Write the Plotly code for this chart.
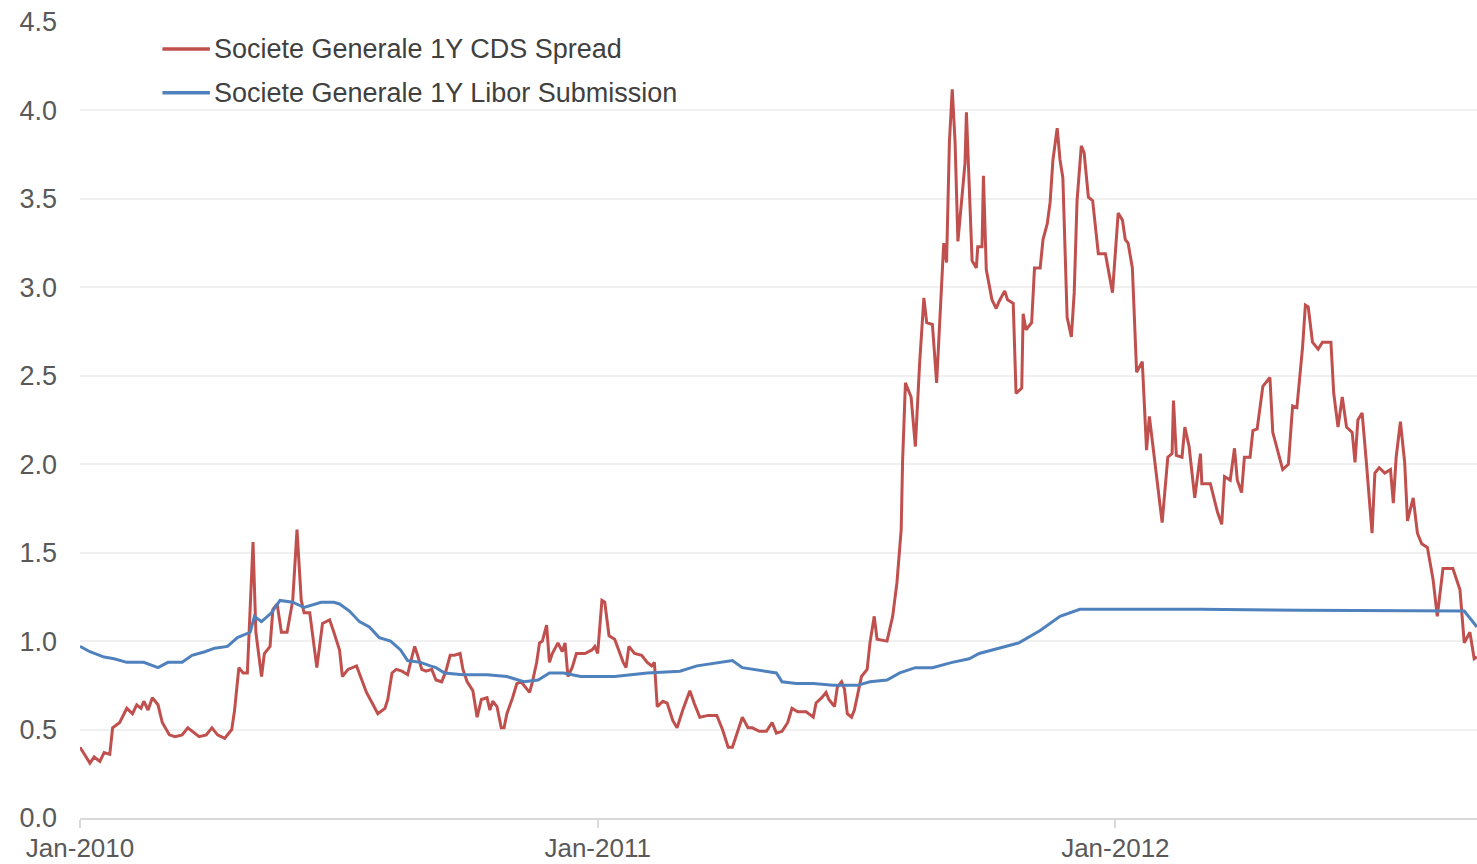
import plotly.graph_objects as go

# Societe Generale 1Y CDS spread
cds_dates = [
    "2010-01-01", "2010-01-08", "2010-01-11", "2010-01-15", "2010-01-18", "2010-01-22", "2010-01-24", "2010-01-29",
    "2010-02-03", "2010-02-07", "2010-02-10", "2010-02-13", "2010-02-15", "2010-02-18", "2010-02-21", "2010-02-25", "2010-02-28",
    "2010-03-05", "2010-03-09", "2010-03-14", "2010-03-18", "2010-03-21", "2010-03-26", "2010-03-31",
    "2010-04-04", "2010-04-08", "2010-04-13", "2010-04-18", "2010-04-20", "2010-04-23", "2010-04-26", "2010-04-29",
    "2010-05-03", "2010-05-05", "2010-05-09", "2010-05-11", "2010-05-15", "2010-05-17", "2010-05-20", "2010-05-23", "2010-05-27", "2010-05-31",
    "2010-06-03", "2010-06-06", "2010-06-08", "2010-06-12", "2010-06-17", "2010-06-21", "2010-06-26", "2010-06-29",
    "2010-07-03", "2010-07-05", "2010-07-09", "2010-07-15", "2010-07-18", "2010-07-22", "2010-07-26", "2010-07-30",
    "2010-08-04", "2010-08-06", "2010-08-09", "2010-08-12", "2010-08-16", "2010-08-20", "2010-08-23", "2010-08-25", "2010-08-27", "2010-08-30",
    "2010-09-02", "2010-09-06", "2010-09-09", "2010-09-13", "2010-09-16", "2010-09-19", "2010-09-22", "2010-09-26", "2010-09-28",
    "2010-10-01", "2010-10-05", "2010-10-08", "2010-10-11", "2010-10-15", "2010-10-17", "2010-10-19", "2010-10-22", "2010-10-25", "2010-10-27", "2010-10-29",
    "2010-11-02", "2010-11-05", "2010-11-08", "2010-11-10", "2010-11-14", "2010-11-16", "2010-11-19", "2010-11-21", "2010-11-23", "2010-11-26", "2010-11-28", "2010-11-30",
    "2010-12-04", "2010-12-07", "2010-12-09", "2010-12-11", "2010-12-14", "2010-12-17", "2010-12-23", "2010-12-28", "2010-12-30",
    "2011-01-01", "2011-01-04", "2011-01-06", "2011-01-09", "2011-01-13", "2011-01-19", "2011-01-21", "2011-01-23", "2011-01-27",
    "2011-02-01", "2011-02-05", "2011-02-08", "2011-02-10", "2011-02-12", "2011-02-16", "2011-02-19", "2011-02-23", "2011-02-26",
    "2011-03-02", "2011-03-07", "2011-03-10", "2011-03-14", "2011-03-20", "2011-03-26", "2011-03-30",
    "2011-04-03", "2011-04-06", "2011-04-10", "2011-04-13", "2011-04-17", "2011-04-20", "2011-04-25", "2011-04-30",
    "2011-05-04", "2011-05-07", "2011-05-11", "2011-05-15", "2011-05-18", "2011-05-22", "2011-05-28",
    "2011-06-02", "2011-06-04", "2011-06-08", "2011-06-11", "2011-06-13", "2011-06-17", "2011-06-19", "2011-06-22", "2011-06-24", "2011-06-26", "2011-06-29",
    "2011-07-01", "2011-07-03", "2011-07-06", "2011-07-10", "2011-07-12", "2011-07-15", "2011-07-17", "2011-07-24", "2011-07-28", "2011-07-31",
    "2011-08-03", "2011-08-04", "2011-08-05", "2011-08-06", "2011-08-10", "2011-08-13", "2011-08-16", "2011-08-19", "2011-08-21", "2011-08-25", "2011-08-28", "2011-08-30",
    "2011-09-02", "2011-09-04", "2011-09-06", "2011-09-08", "2011-09-10", "2011-09-12", "2011-09-15", "2011-09-17", "2011-09-18", "2011-09-20", "2011-09-22", "2011-09-25", "2011-09-26", "2011-09-29", "2011-09-30",
    "2011-10-02", "2011-10-06", "2011-10-09", "2011-10-11", "2011-10-15", "2011-10-17", "2011-10-21", "2011-10-23", "2011-10-27", "2011-10-28", "2011-10-30",
    "2011-11-03", "2011-11-05", "2011-11-09", "2011-11-11", "2011-11-14", "2011-11-16", "2011-11-18", "2011-11-21", "2011-11-23", "2011-11-25", "2011-11-28",
    "2011-12-01", "2011-12-03", "2011-12-05", "2011-12-08", "2011-12-10", "2011-12-13", "2011-12-16", "2011-12-20", "2011-12-25", "2011-12-30",
    "2012-01-03", "2012-01-06", "2012-01-08", "2012-01-10", "2012-01-13", "2012-01-16", "2012-01-20", "2012-01-23", "2012-01-25", "2012-01-29",
    "2012-02-01", "2012-02-03", "2012-02-07", "2012-02-10", "2012-02-11", "2012-02-13", "2012-02-17", "2012-02-19", "2012-02-22", "2012-02-26",
    "2012-03-01", "2012-03-02", "2012-03-08", "2012-03-13", "2012-03-16", "2012-03-18", "2012-03-22", "2012-03-25", "2012-03-27", "2012-03-30",
    "2012-04-01", "2012-04-05", "2012-04-07", "2012-04-10", "2012-04-14", "2012-04-19", "2012-04-21", "2012-04-25", "2012-04-28",
    "2012-05-02", "2012-05-05", "2012-05-08", "2012-05-12", "2012-05-14", "2012-05-16", "2012-05-19", "2012-05-23", "2012-05-26",
    "2012-06-01", "2012-06-03", "2012-06-06", "2012-06-09", "2012-06-12", "2012-06-16", "2012-06-18", "2012-06-20", "2012-06-23", "2012-06-26", "2012-06-30",
    "2012-07-02", "2012-07-05", "2012-07-09", "2012-07-13", "2012-07-15", "2012-07-17", "2012-07-20", "2012-07-23", "2012-07-25", "2012-07-29",
    "2012-08-01", "2012-08-04", "2012-08-08", "2012-08-12", "2012-08-15", "2012-08-19", "2012-08-26", "2012-08-31",
    "2012-09-03", "2012-09-07", "2012-09-10", "2012-09-12",
]
cds_values = [
    0.40, 0.31, 0.345, 0.32, 0.37, 0.36, 0.51, 0.54,
    0.62, 0.59, 0.64, 0.62, 0.66, 0.61, 0.68, 0.64, 0.54,
    0.47, 0.46, 0.47, 0.51, 0.49, 0.46, 0.47,
    0.51, 0.47, 0.45, 0.50, 0.61, 0.85, 0.82, 0.82,
    1.56, 1.05, 0.80, 0.93, 0.97, 1.18, 1.21, 1.05, 1.05, 1.23,
    1.63, 1.23, 1.16, 1.16, 0.85, 1.10, 1.12, 1.05,
    0.95, 0.80, 0.84, 0.86, 0.80, 0.71, 0.65, 0.59,
    0.62, 0.67, 0.82, 0.84, 0.83, 0.81, 0.91, 0.97, 0.92, 0.84,
    0.83, 0.84, 0.78, 0.77, 0.83, 0.92, 0.92, 0.93, 0.84,
    0.77, 0.72, 0.57, 0.67, 0.68, 0.61, 0.66, 0.63, 0.51, 0.51, 0.59,
    0.68, 0.76, 0.77, 0.75, 0.71, 0.77, 0.88, 0.99, 1.00, 1.09, 0.88, 0.93,
    0.99, 0.94, 0.99, 0.80, 0.85, 0.93, 0.93, 0.95, 0.97,
    0.93, 1.23, 1.22, 1.03, 1.01, 0.88, 0.85, 0.97, 0.93,
    0.92, 0.88, 0.86, 0.88, 0.63, 0.66, 0.65, 0.55, 0.51,
    0.61, 0.72, 0.65, 0.57, 0.58, 0.58, 0.50,
    0.40, 0.40, 0.50, 0.57, 0.51, 0.51, 0.49, 0.49,
    0.54, 0.48, 0.49, 0.54, 0.62, 0.60, 0.60,
    0.57, 0.65, 0.68, 0.71, 0.67, 0.63, 0.74, 0.77, 0.73, 0.59, 0.57,
    0.61, 0.68, 0.80, 0.84, 0.99, 1.14, 1.01, 1.00, 1.14, 1.33,
    1.63, 2.02, 2.31, 2.46, 2.38, 2.10, 2.57, 2.94, 2.80, 2.79, 2.46, 2.78,
    3.25, 3.14, 3.82, 4.12, 3.82, 3.26, 3.51, 3.70, 3.99, 3.59, 3.15, 3.11, 3.23, 3.23, 3.63,
    3.10, 2.93, 2.88, 2.92, 2.98, 2.93, 2.91, 2.40, 2.43, 2.85, 2.76,
    2.80, 3.11, 3.11, 3.27, 3.36, 3.48, 3.72, 3.90, 3.72, 3.62, 2.83,
    2.72, 2.97, 3.49, 3.80, 3.76, 3.51, 3.49, 3.19, 3.19, 2.97,
    3.42, 3.38, 3.27, 3.25, 3.11, 2.52, 2.58, 2.08, 2.27, 2.01,
    1.80, 1.67, 2.04, 2.06, 2.36, 2.05, 2.04, 2.21, 2.10, 1.81,
    2.06, 1.89, 1.89, 1.73, 1.66, 1.93, 1.91, 2.09, 1.91, 1.84,
    2.04, 2.04, 2.19, 2.20, 2.44, 2.49, 2.18, 2.06, 1.97,
    2.00, 2.33, 2.32, 2.66, 2.90, 2.89, 2.69, 2.65, 2.69,
    2.69, 2.40, 2.21, 2.38, 2.21, 2.18, 2.01, 2.25, 2.29, 2.01, 1.61,
    1.95, 1.98, 1.95, 1.97, 1.78, 2.04, 2.24, 2.01, 1.68, 1.81,
    1.61, 1.55, 1.53, 1.35, 1.14, 1.41, 1.41, 1.29,
    0.99, 1.05, 0.90, 0.91,
]

# Societe Generale 1Y Libor submission
libor_dates = [
    "2010-01-01", "2010-01-08", "2010-01-18", "2010-01-25", "2010-02-03", "2010-02-15", "2010-02-25",
    "2010-03-04", "2010-03-14", "2010-03-21", "2010-03-30", "2010-04-06", "2010-04-15", "2010-04-22",
    "2010-05-01", "2010-05-04", "2010-05-09", "2010-05-16", "2010-05-22", "2010-05-31", "2010-06-08",
    "2010-06-20", "2010-06-29", "2010-07-03", "2010-07-10", "2010-07-17", "2010-07-24", "2010-07-31",
    "2010-08-08", "2010-08-15", "2010-08-20", "2010-08-29", "2010-09-05", "2010-09-09", "2010-09-15",
    "2010-09-28", "2010-10-15", "2010-10-29", "2010-11-10", "2010-11-20", "2010-11-28", "2010-12-08",
    "2010-12-20", "2011-01-01", "2011-01-13", "2011-02-05", "2011-02-28", "2011-03-12", "2011-03-28",
    "2011-04-06", "2011-04-13", "2011-04-30", "2011-05-07", "2011-05-11", "2011-05-21", "2011-06-02",
    "2011-06-16", "2011-07-03", "2011-07-12", "2011-07-24", "2011-08-02", "2011-08-13", "2011-08-25",
    "2011-09-08", "2011-09-20", "2011-09-27", "2011-10-11", "2011-10-25", "2011-11-09", "2011-11-23",
    "2011-12-07", "2011-12-21", "2012-03-01", "2012-05-11", "2012-07-20", "2012-09-03", "2012-09-12",
]
libor_values = [
    0.97, 0.94, 0.91, 0.90, 0.88, 0.88, 0.85,
    0.88, 0.88, 0.92, 0.94, 0.96, 0.97, 1.02,
    1.05, 1.14, 1.11, 1.16, 1.23, 1.22, 1.19,
    1.22, 1.22, 1.21, 1.17, 1.11, 1.08, 1.02,
    1.00, 0.95, 0.89, 0.88, 0.86, 0.85, 0.82,
    0.81, 0.81, 0.80, 0.77, 0.78, 0.82, 0.82,
    0.80, 0.80, 0.80, 0.82, 0.83, 0.86, 0.88,
    0.89, 0.85, 0.83, 0.82, 0.77, 0.76, 0.76,
    0.75, 0.75, 0.77, 0.78, 0.82, 0.85, 0.85,
    0.88, 0.90, 0.93, 0.96, 0.99, 1.06, 1.14,
    1.18, 1.18, 1.18, 1.175, 1.17, 1.17, 1.08,
]

series_names = ["Societe Generale 1Y CDS Spread", "Societe Generale 1Y Libor Submission"]
year_ticks = ["2010-01-01", "2011-01-01", "2012-01-01"]
year_labels = ["Jan-2010", "Jan-2011", "Jan-2012"]

RED = "#c0504d"
BLUE = "#4f81bd"
FONT = "Liberation Sans, Arial, sans-serif"

fig = go.Figure()
fig.add_trace(go.Scatter(x=cds_dates, y=cds_values, mode="lines",
                         name=series_names[0], line=dict(color=RED, width=3)))
fig.add_trace(go.Scatter(x=libor_dates, y=libor_values, mode="lines",
                         name=series_names[1], line=dict(color=BLUE, width=3)))

# legend drawn by hand so the sample lines can be as long as in the original
legend_y = [0.966, 0.911]
for name, color, ly in zip(series_names, [RED, BLUE], legend_y):
    fig.add_shape(type="line", xref="paper", yref="paper",
                  x0=0.059, x1=0.093, y0=ly, y1=ly,
                  line=dict(color=color, width=3.5))
    fig.add_annotation(xref="paper", yref="paper", x=0.0945, y=ly,
                       xanchor="left", yanchor="middle", showarrow=False,
                       text=name, font=dict(family=FONT, size=27, color="#404040"))

fig.update_layout(
    width=1477, height=864,
    margin=dict(l=80, r=0, t=22, b=46),
    paper_bgcolor="white", plot_bgcolor="white",
    showlegend=False,
    font=dict(family=FONT, size=27, color="#595959"),
    xaxis=dict(
        type="date", range=["2010-01-01", "2012-09-12"],
        tickvals=year_ticks, ticktext=year_labels,
        showgrid=False, zeroline=False,
        showline=True, linecolor="#d9d9d9", linewidth=2,
        ticks="outside", ticklen=8, tickcolor="#d9d9d9", tickwidth=2,
        ticklabelstandoff=-2,
        tickfont=dict(family=FONT, size=26, color="#595959"),
        automargin=False,
    ),
    yaxis=dict(
        range=[0, 4.5], dtick=0.5, tickformat=".1f",
        showgrid=True, gridcolor="#f0f0f0", gridwidth=2,
        zeroline=False, showline=False, ticks="",
        ticklabelstandoff=22,
        tickfont=dict(family=FONT, size=27, color="#595959"),
        automargin=False,
    ),
)

# the page's default body margin would push the figure 8px off the window corner
fig.write_html("out.html", config={"displayModeBar": False},
               post_script="document.body.style.margin='0';")
